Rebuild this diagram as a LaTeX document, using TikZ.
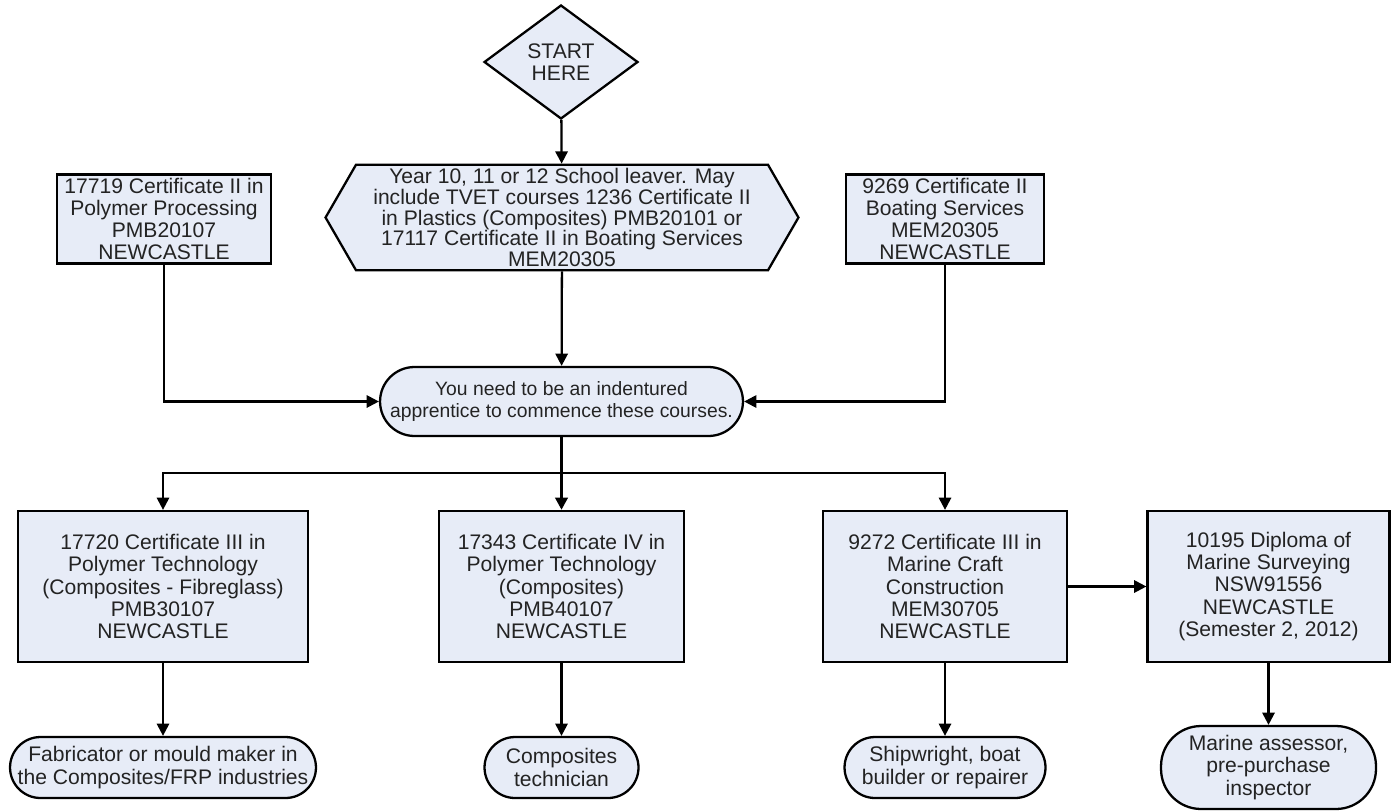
\documentclass[tikz,border=0pt]{standalone}
\usepackage{fontspec}
\setmainfont{Liberation Sans}
\usetikzlibrary{arrows.meta,shapes.geometric,shapes.symbols}
\definecolor{boxfill}{RGB}{231,236,247}
\definecolor{inktext}{RGB}{35,35,35}
\tikzset{
  base/.style={draw, line width=1.3pt, fill=boxfill, align=center, inner sep=2pt, text=inktext,
    font=\fontsize{12}{12.6}\selectfont},
  box/.style={base, rectangle, minimum height=3.02cm},
  topbox/.style={base, rectangle, minimum height=1.76cm},
  term/.style={base, rectangle, rounded corners=0.61cm, minimum height=1.22cm},
  startdia/.style={base, diamond, inner sep=0pt},
  hexa/.style={base, signal, signal to=west and east, signal pointer angle=120},
  conn/.style={->, line width=1.3pt}
}
\begin{document}
\begin{tikzpicture}[x=0.02cm, y=-0.02cm, >={Triangle[length=7pt,width=7pt]}]
	\useasboundingbox (0,0) rectangle (1391,811);

	% Start and entry
	\node[startdia, minimum width=3.08cm, minimum height=2.28cm] (start) at (561,62) {START\\HERE};
	\node[hexa, minimum width=9.46cm, minimum height=2.1cm, font=\fontsize{12}{11.8}\selectfont] (school) at (562,217.5)
		{Year 10, 11 or 12 School leaver. May\\include TVET courses 1236 Certificate II\\in Plastics (Composites) PMB20101 or\\17117 Certificate II in Boating Services\\MEM20305};
	\node[topbox, minimum width=4.28cm] (poly2) at (164,219)
		{17719 Certificate II in\\Polymer Processing\\PMB20107\\NEWCASTLE};
	\node[topbox, minimum width=3.96cm] (boat2) at (945,219)
		{9269 Certificate II\\Boating Services\\MEM20305\\NEWCASTLE};
	\node[term, rounded corners=0.69cm, minimum width=7.26cm, minimum height=1.38cm,
		font=\fontsize{11}{12.6}\selectfont] (appr) at (561.5,401.5)
		{You need to be an indentured\\apprentice to commence these courses.};

	% Courses
	\node[box, minimum width=5.8cm] (poly3) at (163,586.5)
		{17720 Certificate III in\\Polymer Technology\\(Composites - Fibreglass)\\PMB30107\\NEWCASTLE};
	\node[box, minimum width=4.9cm] (poly4) at (561.5,586.5)
		{17343 Certificate IV in\\Polymer Technology\\(Composites)\\PMB40107\\NEWCASTLE};
	\node[box, minimum width=4.88cm] (marine3) at (945,586.5)
		{9272 Certificate III in\\Marine Craft\\Construction\\MEM30705\\NEWCASTLE};
	\node[box, minimum width=4.84cm] (survey) at (1268.5,586.5)
		{10195 Diploma of\\Marine Surveying\\NSW91556\\NEWCASTLE\\(Semester 2, 2012)};

	% Outcomes
	\node[term, minimum width=6.12cm] (fabr) at (163,767.5)
		{Fabricator or mould maker in\\the Composites/FRP industries};
	\node[term, minimum width=3.08cm] (tech) at (561.5,767.5) {Composites\\technician};
	\node[term, minimum width=4.02cm] (ship) at (945,767.5) {Shipwright, boat\\builder or repairer};
	\node[term, rounded corners=0.8cm, minimum width=4.3cm, minimum height=1.66cm] (assessor) at (1268.5,767.5)
		{Marine assessor,\\pre-purchase\\inspector};

	% Connectors
	\coordinate (split) at (561.5,473);
	\draw[conn] (start) -- (school);
	\draw[conn] (school) -- (appr);
	\draw[conn] (poly2.south) |- (appr.west);
	\draw[conn] (boat2.south) |- (appr.east);
	\draw[conn, line width=1.8pt] (appr) -- (poly4);
	\draw[conn] (split) -| (poly3.north);
	\draw[conn] (split) -| (marine3.north);
	\draw[conn] (marine3) -- (survey);
	\draw[conn] (poly3) -- (fabr);
	\draw[conn] (poly4) -- (tech);
	\draw[conn] (marine3) -- (ship);
	\draw[conn] (survey) -- (assessor);
\end{tikzpicture}
\end{document}
